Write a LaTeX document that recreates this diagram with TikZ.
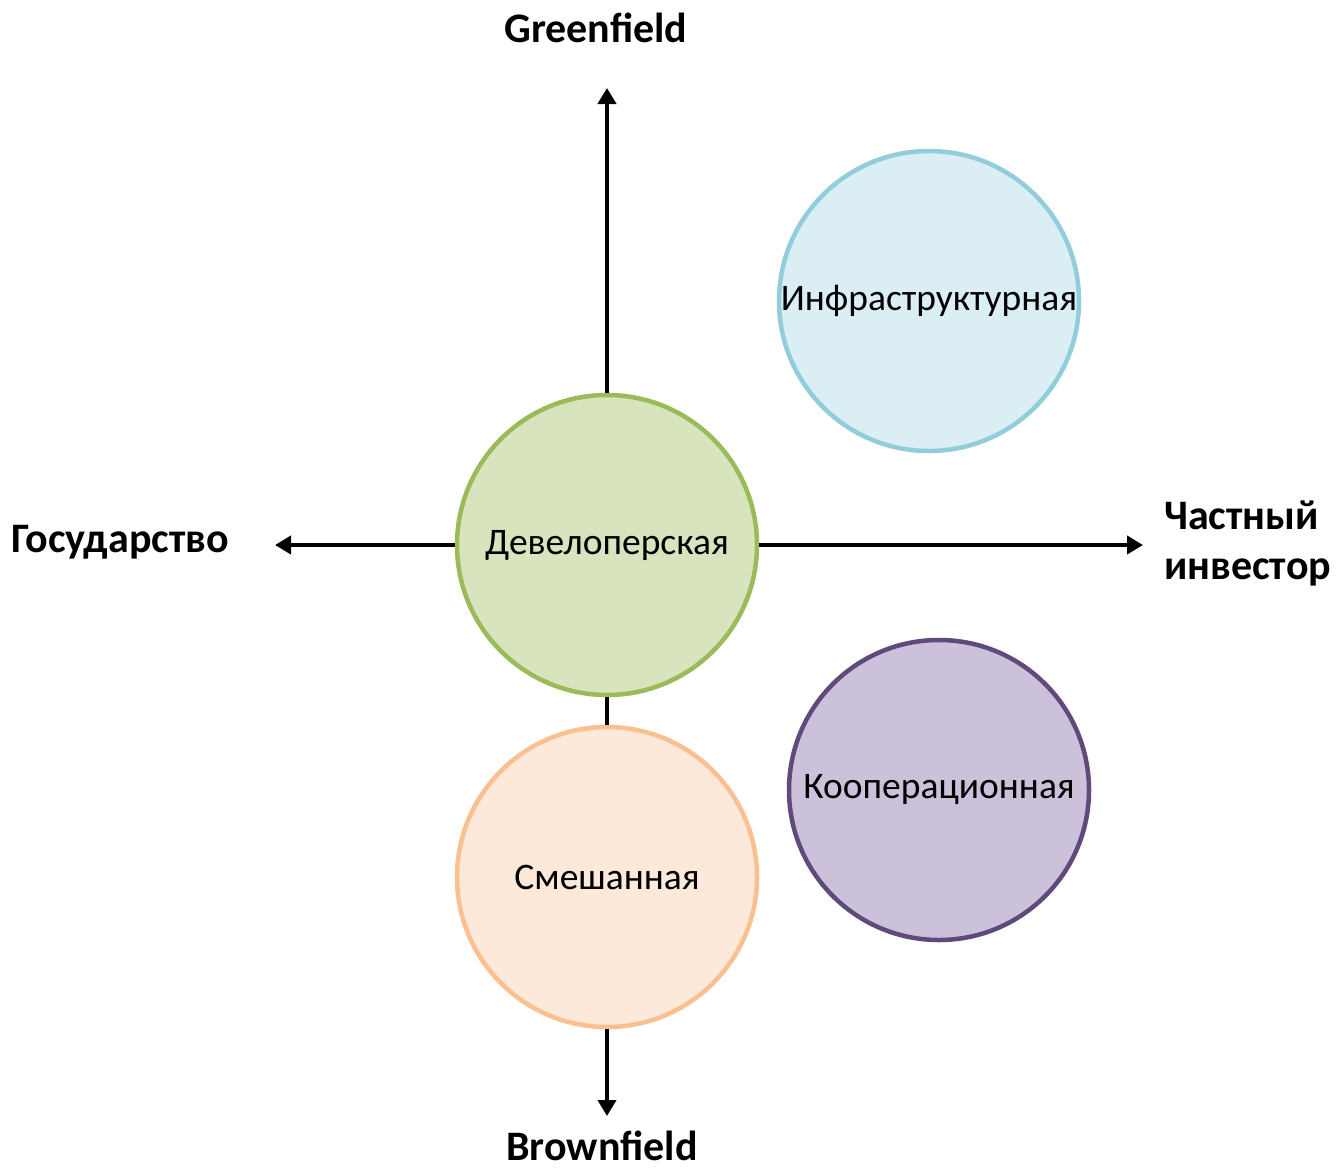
\documentclass[tikz,border=0pt]{standalone}
\usepackage{fontspec}
\setmainfont{Carlito}
\usetikzlibrary{arrows.meta}
\definecolor{gfill}{HTML}{D7E4BD}\definecolor{gline}{HTML}{9BBB59}
\definecolor{bfill}{HTML}{DAEEF3}\definecolor{bline}{HTML}{92CDDC}
\definecolor{pfill}{HTML}{CCC1DA}\definecolor{pline}{HTML}{604A7B}
\definecolor{ofill}{HTML}{FDE9D9}\definecolor{oline}{HTML}{FAC090}
\begin{document}
\begin{tikzpicture}[x=1pt,y=-1pt,
  bubble/.style={circle,minimum size=300pt,inner sep=0pt,line width=4.5pt,font=\fontsize{37.5}{44}\selectfont},
  axis/.style={line width=4.5pt,-{Triangle[length=16pt,width=18pt]}},
  axlabel/.style={font=\fontsize{42}{50}\selectfont\bfseries,inner sep=0pt}]
\useasboundingbox (0,0) rectangle (1337,1170);
\node[bubble,fill=gfill,draw=gline] (dev) at (607,545) {Девелоперская};
\node[bubble,fill=bfill,draw=bline] (inf) at (929,301) {Инфраструктурная};
\node[bubble,fill=pfill,draw=pline] (coop) at (939,790) {Кооперационная};
\node[bubble,fill=ofill,draw=oline] (mix) at (607,877) {Смешанная};
\coordinate (top) at (607,88);
\coordinate (bot) at (607,1116);
\coordinate (lft) at (275,545);
\coordinate (rgt) at (1143,545);
\draw[axis] (dev.north) -- (top);
\draw[line width=4.5pt] (dev.south) -- (mix.north);
\draw[axis] (mix.south) -- (bot);
\draw[axis] (dev.west) -- (lft);
\draw[axis] (dev.east) -- (rgt);
\node[axlabel] (gf) at (596,28) {Greenfield};
\node[axlabel] (bf) at (602,1146) {Brownfield};
\node[axlabel,anchor=west] (gos) at (11,542) {Государство};
\node[axlabel,anchor=west,align=left] (priv) at (1164,543) {Частный\\инвестор};
\end{tikzpicture}
\end{document}
